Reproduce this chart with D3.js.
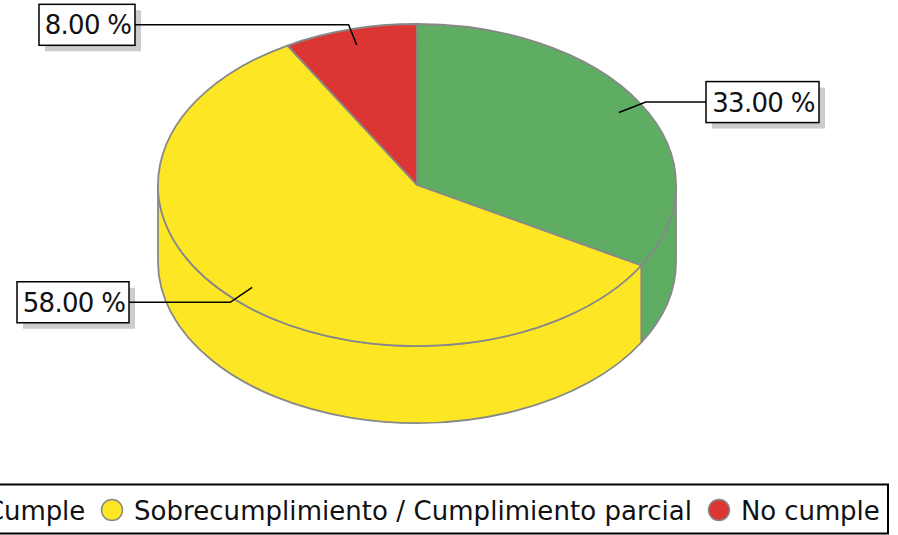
<!DOCTYPE html>
<html>
<head>
<meta charset="utf-8">
<style>
  html, body { margin: 0; padding: 0; background: #fff; overflow: hidden; }
  text { font-family: "DejaVu Sans", sans-serif; fill: #111; }
</style>
<script src="https://cdn.jsdelivr.net/npm/d3@7"></script>
</head>
<body>
<script>
const categories = ['Cumple', 'Sobrecumplimiento / Cumplimiento parcial', 'No cumple'];
const values = [33.33, 58.33, 8.33];
const valueLabels = ['33.00 %', '58.00 %', '8.00 %'];
const colors = ['#5fad62', '#fde725', '#db3534'];

const width = 898, height = 535;
const cx = 417, cy = 185, rx = 259, ry = 161, depth = 77;
const edge = '#888';

const svg = d3.select('body').append('svg')
    .attr('width', width)
    .attr('height', height)
    .style('display', 'block');

const sx = d3.scaleLinear().domain([-1, 1]).range([cx - rx, cx + rx]);
const sy = d3.scaleLinear().domain([-1, 1]).range([cy - ry, cy + ry]);

// angle 0 is 12 o'clock, going clockwise
const px = (a, r = 1) => sx(Math.sin(a) * r);
const py = (a, r = 1) => sy(-Math.cos(a) * r);

const slices = d3.pie().sort(null)(values);

function arcTo(a, sweep, dy = 0) {
    return `A${rx},${ry} 0 0 ${sweep} ${px(a)},${py(a) + dy}`;
}

// side wall, only the front half of the ellipse shows
const g = svg.append('g');
slices.forEach((s, i) => {
    const a0 = Math.max(s.startAngle, Math.PI / 2);
    const a1 = Math.min(s.endAngle, Math.PI * 1.5);
    if (a1 <= a0) return;
    g.append('path')
        .attr('d', `M${px(a0)},${py(a0)} ${arcTo(a1, 1)} L${px(a1)},${py(a1) + depth} ${arcTo(a0, 0, depth)} Z`)
        .attr('fill', colors[i])
        .attr('stroke', edge)
        .attr('stroke-width', 1.8)
        .attr('stroke-linejoin', 'round');
});

g.selectAll('.top')
    .data(slices)
    .join('path')
    .attr('class', 'top')
    .attr('d', d => `M${cx},${cy} L${px(d.startAngle)},${py(d.startAngle)} ` +
        `A${rx},${ry} 0 ${d.endAngle - d.startAngle > Math.PI ? 1 : 0} 1 ${px(d.endAngle)},${py(d.endAngle)} Z`)
    .attr('fill', (d, i) => colors[i])
    .attr('stroke', edge)
    .attr('stroke-width', 1.8)
    .attr('stroke-linejoin', 'round');

// labels with leader lines
const labelBoxes = [
    { x: 706, w: 113, h: 41 },
    { x: 17, w: 112, h: 41 },
    { x: 39, w: 96, h: 41 }
];
const fontSize = 26;

slices.forEach((s, i) => {
    const mid = (s.startAngle + s.endAngle) / 2;
    const box = labelBoxes[i];
    const ex = px(mid, 1.02), ey = py(mid, 1.03);
    const right = ex > cx;
    const boxEdge = right ? box.x : box.x + box.w;
    const top = ey - box.h / 2;

    // shadow goes under the leader, the line runs over it up to the box
    g.append('rect')
        .attr('x', box.x + 6).attr('y', top + 6)
        .attr('width', box.w).attr('height', box.h)
        .attr('fill', '#ccc');

    g.append('path')
        .attr('d', d3.line()([[px(mid, 0.9), py(mid, 0.9)], [ex, ey], [boxEdge, ey]]))
        .attr('fill', 'none')
        .attr('stroke', '#000')
        .attr('stroke-width', 1.5);

    g.append('rect')
        .attr('x', box.x).attr('y', top)
        .attr('width', box.w).attr('height', box.h)
        .attr('fill', '#fff')
        .attr('stroke', '#000')
        .attr('stroke-width', 1.5);
    g.append('text')
        .attr('x', box.x + box.w / 2 + 1)
        .attr('y', ey + 9.5)
        .attr('text-anchor', 'middle')
        .style('font-size', fontSize + 'px')
        .style('letter-spacing', '-0.7px')
        .text(valueLabels[i]);
});

// legend runs off the left side of the canvas
const legend = svg.append('g');
legend.append('rect')
    .attr('x', -60).attr('y', 484.5)
    .attr('width', 948).attr('height', 49)
    .attr('fill', '#fff')
    .attr('stroke', '#000')
    .attr('stroke-width', 2);

const legendX = [-34, 112, 719];
const legendTextX = [-14, 134, 741];
categories.forEach((c, i) => {
    legend.append('circle')
        .attr('cx', legendX[i]).attr('cy', 510).attr('r', 10.5)
        .attr('fill', colors[i])
        .attr('stroke', edge)
        .attr('stroke-width', 1.5);
    legend.append('text')
        .attr('x', legendTextX[i])
        .attr('y', 519.5)
        .style('font-size', fontSize + 'px')
        .style('letter-spacing', i === 1 ? '0.05px' : '-0.1px')
        .text(c);
});
</script>
</body>
</html>
